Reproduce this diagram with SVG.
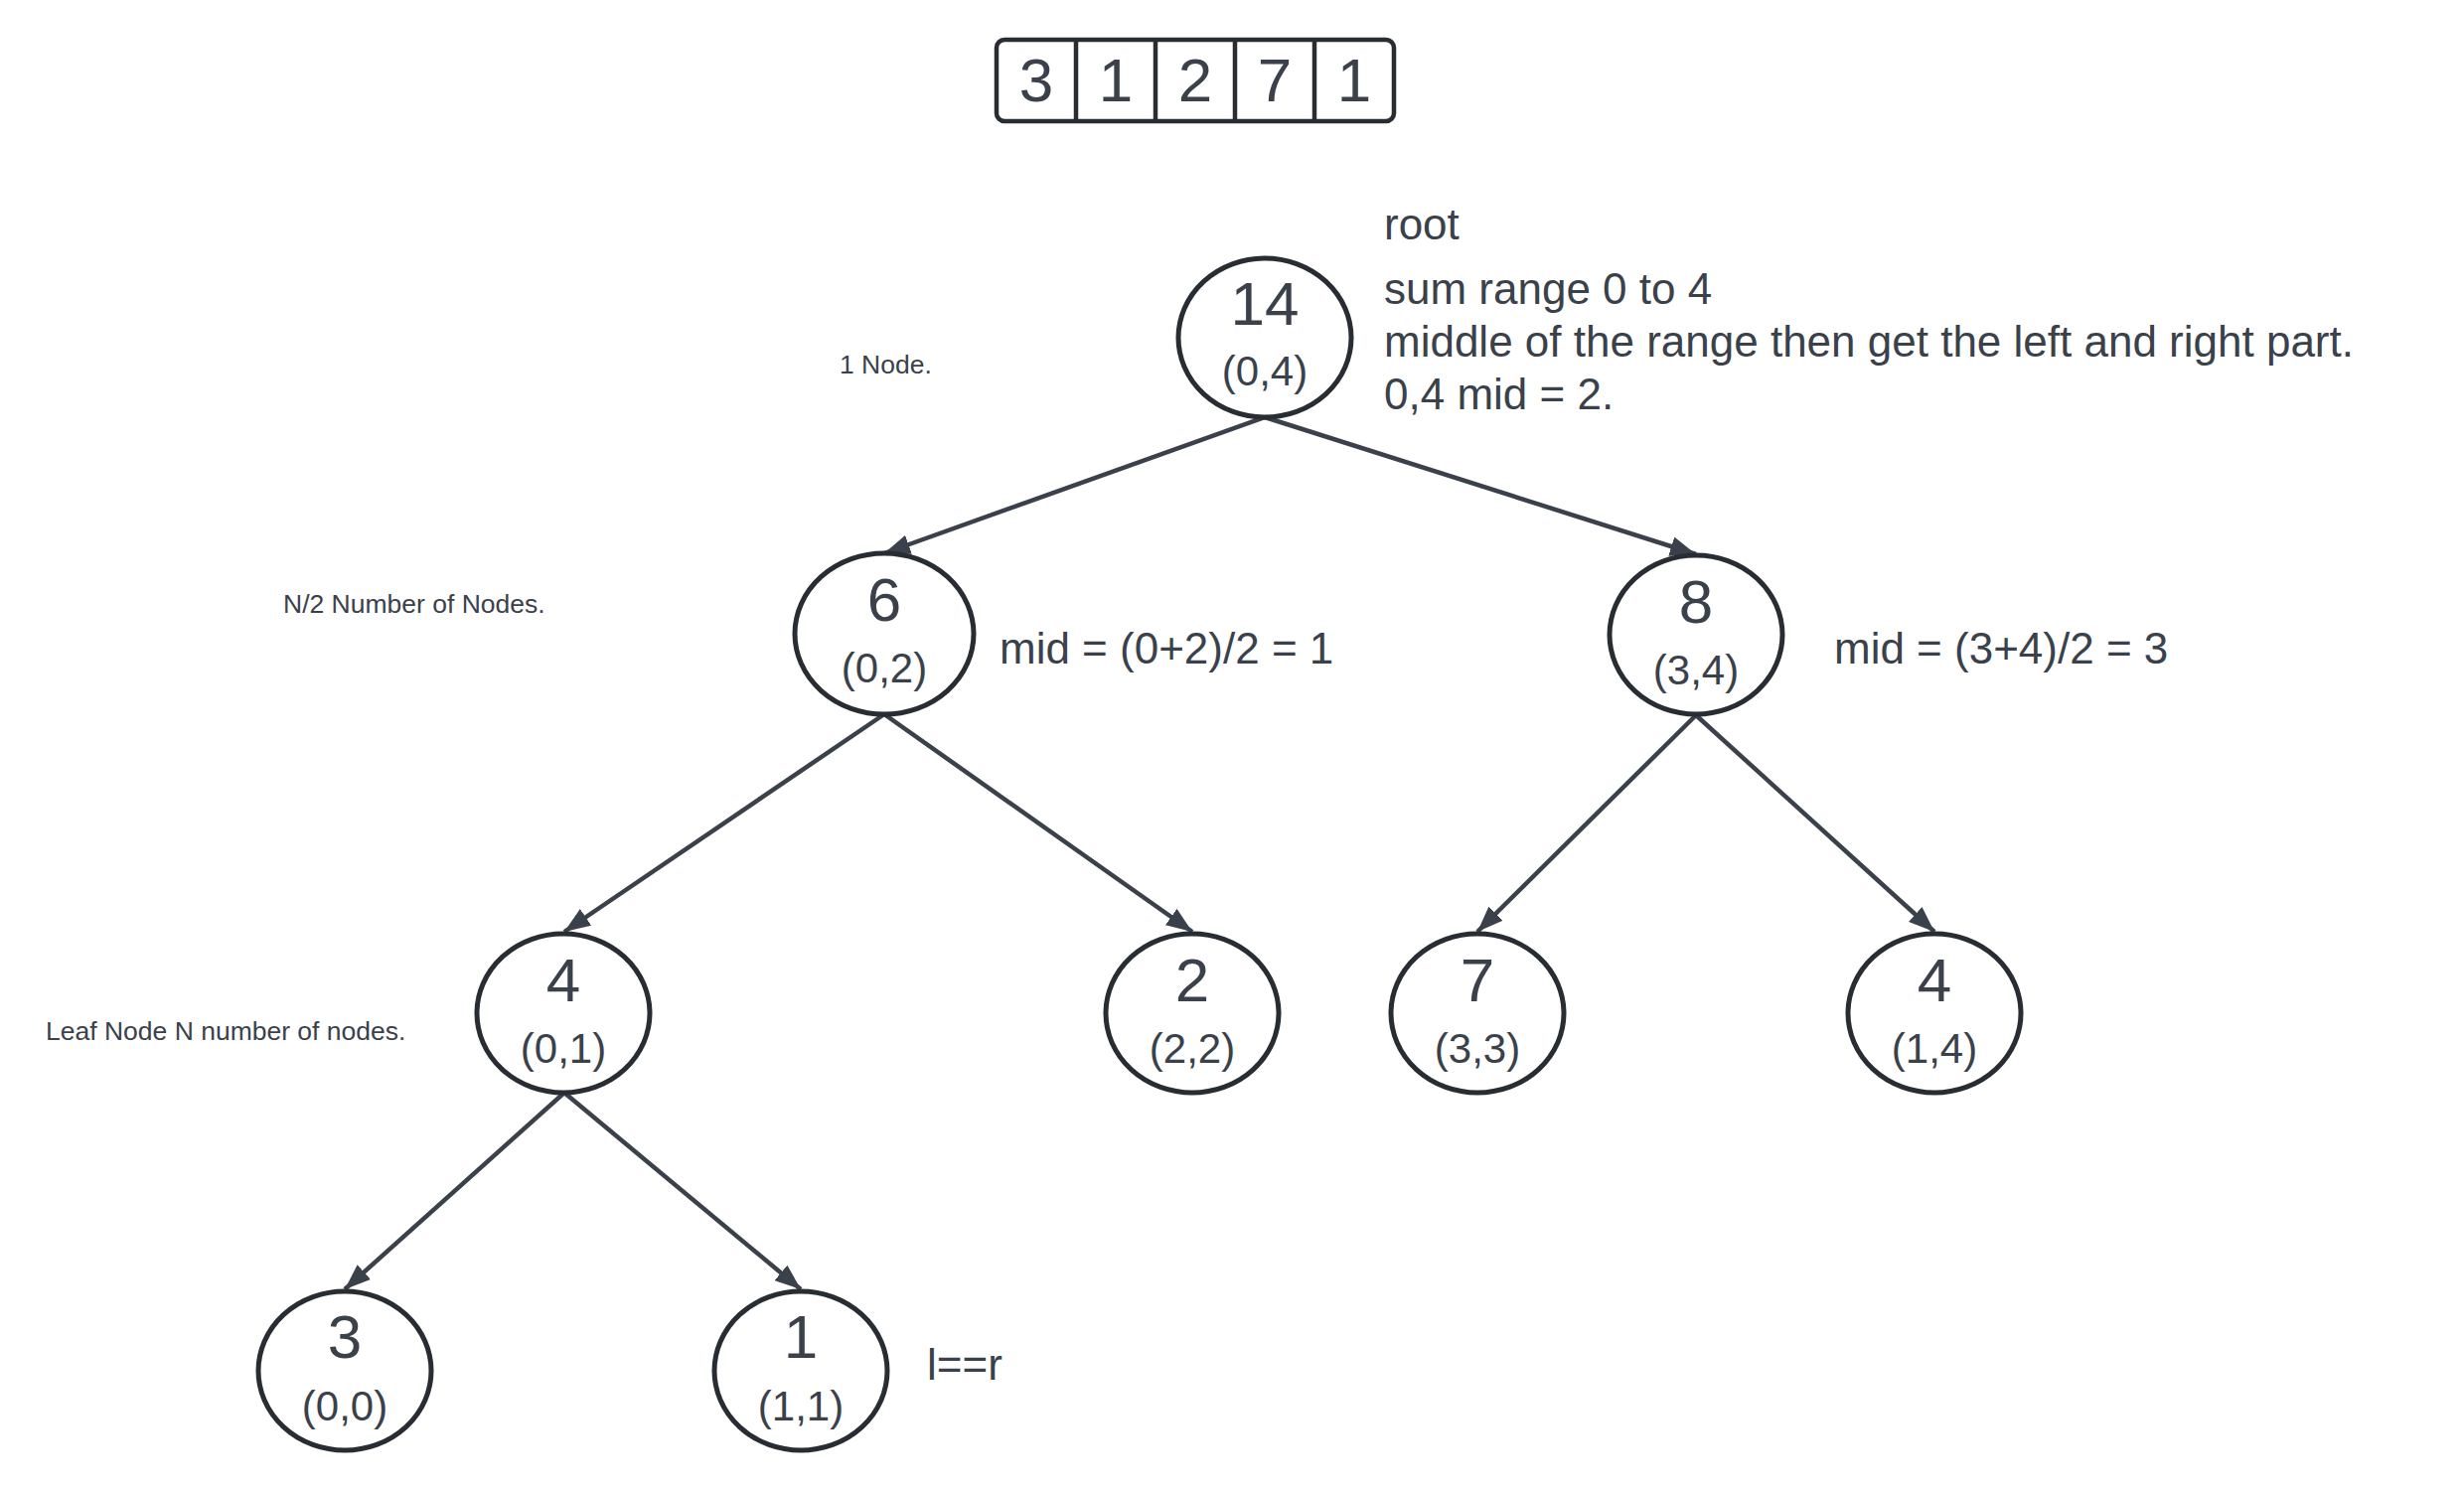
<svg xmlns="http://www.w3.org/2000/svg" width="2480" height="1501" viewBox="0 0 2480 1501">
<style>
.node ellipse{fill:#ffffff;stroke:#282c33;stroke-width:5}
.num{font-family:"Liberation Sans",Arial,sans-serif;font-size:62px;fill:#3a414a;text-anchor:middle}
.rng{font-family:"Liberation Sans",Arial,sans-serif;font-size:42px;fill:#3a414a;text-anchor:middle}
.note{font-family:"Liberation Sans",Arial,sans-serif;font-size:44px;fill:#3a414a}
.small{font-family:"Liberation Sans",Arial,sans-serif;font-size:26.5px;fill:#3a414a}
.edge{stroke:#3a414a;stroke-width:4.5;fill:none}
</style>
<defs>
<marker id="arr" markerUnits="userSpaceOnUse" viewBox="0 0 26 20" refX="26" refY="10" markerWidth="26" markerHeight="20" orient="auto">
<path d="M0,0 L26,10 L0,20 Z" fill="#3a414a"/>
</marker>
</defs>
<rect width="2480" height="1501" fill="#ffffff"/>

<g id="array">
<rect x="1003" y="40" width="400" height="82" rx="8" fill="#ffffff" stroke="#282c33" stroke-width="4.5"/>
<line x1="1083" y1="40" x2="1083" y2="122" stroke="#282c33" stroke-width="4.5"/>
<line x1="1163" y1="40" x2="1163" y2="122" stroke="#282c33" stroke-width="4.5"/>
<line x1="1243" y1="40" x2="1243" y2="122" stroke="#282c33" stroke-width="4.5"/>
<line x1="1323" y1="40" x2="1323" y2="122" stroke="#282c33" stroke-width="4.5"/>
<text class="num" x="1043" y="102">3</text>
<text class="num" x="1123" y="102">1</text>
<text class="num" x="1203" y="102">2</text>
<text class="num" x="1283" y="102">7</text>
<text class="num" x="1363" y="102">1</text>
</g>

<g id="connectors">
<line class="edge" x1="1273" y1="420" x2="890" y2="557" marker-end="url(#arr)"/>
<line class="edge" x1="1273" y1="420" x2="1707" y2="558" marker-end="url(#arr)"/>
<line class="edge" x1="890" y1="719" x2="568" y2="938" marker-end="url(#arr)"/>
<line class="edge" x1="890" y1="719" x2="1200" y2="938" marker-end="url(#arr)"/>
<line class="edge" x1="1707" y1="720" x2="1487" y2="938" marker-end="url(#arr)"/>
<line class="edge" x1="1707" y1="720" x2="1947" y2="938" marker-end="url(#arr)"/>
<line class="edge" x1="568" y1="1100" x2="347" y2="1298" marker-end="url(#arr)"/>
<line class="edge" x1="568" y1="1100" x2="806" y2="1298" marker-end="url(#arr)"/>
</g>

<g id="node-root" class="node">
<ellipse cx="1273" cy="340" rx="87" ry="80"/>
<text class="num" x="1273" y="327">14</text>
<text class="rng" x="1273" y="388">(0,4)</text>
</g>
<g id="node-6" class="node">
<ellipse cx="890" cy="638" rx="90" ry="81"/>
<text class="num" x="890" y="625">6</text>
<text class="rng" x="890" y="687">(0,2)</text>
</g>
<g id="node-8" class="node">
<ellipse cx="1707" cy="639" rx="87" ry="80"/>
<text class="num" x="1707" y="627">8</text>
<text class="rng" x="1707" y="689">(3,4)</text>
</g>
<g id="node-4a" class="node">
<ellipse cx="567" cy="1020" rx="87" ry="80"/>
<text class="num" x="567" y="1008">4</text>
<text class="rng" x="567" y="1070">(0,1)</text>
</g>
<g id="node-2" class="node">
<ellipse cx="1200" cy="1020" rx="87" ry="80"/>
<text class="num" x="1200" y="1008">2</text>
<text class="rng" x="1200" y="1070">(2,2)</text>
</g>
<g id="node-7" class="node">
<ellipse cx="1487" cy="1020" rx="87" ry="80"/>
<text class="num" x="1487" y="1008">7</text>
<text class="rng" x="1487" y="1070">(3,3)</text>
</g>
<g id="node-4b" class="node">
<ellipse cx="1947" cy="1020" rx="87" ry="80"/>
<text class="num" x="1947" y="1008">4</text>
<text class="rng" x="1947" y="1070">(1,4)</text>
</g>
<g id="node-3" class="node">
<ellipse cx="347" cy="1380" rx="87" ry="80"/>
<text class="num" x="347" y="1367">3</text>
<text class="rng" x="347" y="1430">(0,0)</text>
</g>
<g id="node-1" class="node">
<ellipse cx="806" cy="1380" rx="87" ry="80"/>
<text class="num" x="806" y="1367">1</text>
<text class="rng" x="806" y="1430">(1,1)</text>
</g>

<g id="annotations">
<text class="note" x="1393" y="241">root</text>
<text class="note" x="1393" y="306">sum range 0 to 4</text>
<text class="note" x="1393" y="359">middle of the range then get the left and right part.</text>
<text class="note" x="1393" y="412">0,4 mid = 2.</text>
<text class="note" x="1006" y="668">mid = (0+2)/2 = 1</text>
<text class="note" x="1846" y="668">mid = (3+4)/2 = 3</text>
<text class="note" x="933" y="1389">l==r</text>
<text class="small" x="845" y="376">1 Node.</text>
<text class="small" x="285" y="617">N/2 Number of Nodes.</text>
<text class="small" x="46" y="1047">Leaf Node N number of nodes.</text>
</g>
</svg>
